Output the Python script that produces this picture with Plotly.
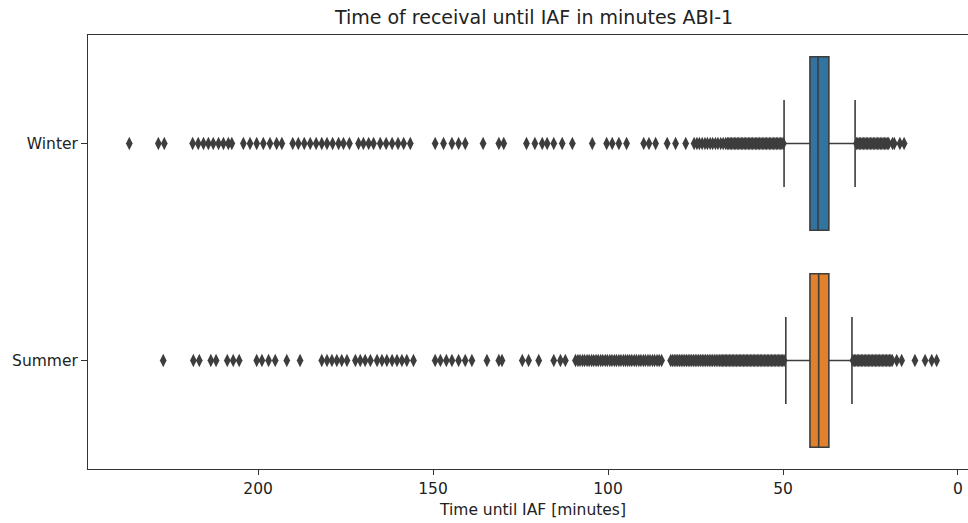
import plotly.graph_objects as go

# ---------------- data ----------------
categories = ["Winter", "Summer"]

q1 = [36.9, 36.9]
median = [40.0, 39.8]
q3 = [42.3, 42.3]
lower_whisker = [29.4, 30.3]
upper_whisker = [49.7, 49.2]

winter_outliers = [
    236.8, 228.5, 226.8,
    218.7, 217.1, 215.6, 214.2, 212.8, 211.3, 209.9, 208.5, 207.5,
    204.2, 202.3, 200.4, 198.5, 196.6, 194.7, 193.2,
    190.1, 188.5, 186.8, 185.1, 183.4, 181.8, 180.3, 178.7, 177.0, 175.6, 173.9,
    171.3, 169.9, 168.4, 167.0, 165.1, 163.4, 161.7, 160.0, 158.4, 156.5,
    149.4, 147.0, 144.6, 142.7, 140.8,
    135.7, 131.2, 129.8,
    123.3, 120.9, 118.8, 117.4, 115.5, 113.1, 110.2,
    104.5, 100.4, 98.8, 96.9, 94.7,
    89.8, 88.3, 86.4, 83.1, 80.7, 77.8,
    75.4, 74.6, 73.9, 73.1, 72.3, 71.6, 70.8, 70.1, 69.3, 68.6, 67.8, 67.1, 66.4,
    65.9, 65.5, 65.1, 64.7, 64.3, 63.9, 63.5, 63.1, 62.7, 62.3, 61.9, 61.5, 61.1,
    60.7, 60.3, 59.9, 59.5, 59.1, 58.7, 58.3, 57.9, 57.5, 57.1, 56.7, 56.3, 55.9,
    55.5, 55.1, 54.7, 54.3, 53.9, 53.5, 53.1, 52.7, 52.3, 51.9, 51.5, 51.1, 50.7,
    50.3, 49.9,
    29.0, 28.6, 28.2, 27.8, 27.4, 27.0, 26.6, 26.2, 25.8, 25.4, 25.0, 24.6, 24.2,
    23.8, 23.4, 23.0, 22.6, 22.2, 21.8, 21.4, 21.0, 20.6, 20.2, 19.8,
    18.7, 18.2, 16.6, 15.4,
]

summer_outliers = [
    227.1,
    218.5, 216.8, 213.5, 212.0,
    208.8, 207.1, 205.4,
    200.4, 198.9, 197.0, 195.1, 191.8, 188.0,
    181.8, 180.3, 178.9, 177.5, 176.1, 174.6, 172.2, 170.8, 169.4, 167.9, 166.0,
    164.6, 163.2, 161.7, 160.3, 158.9, 157.5, 155.6,
    149.4, 147.9, 146.2, 144.6, 142.7, 140.8, 138.9,
    134.6, 131.2, 130.3,
    124.5, 122.7, 119.8,
    115.5, 113.6, 112.2,
    109.3, 108.6, 108.0, 107.3, 106.7, 106.0, 105.4, 104.7, 104.1, 103.4, 102.8,
    102.1, 101.5, 100.8, 100.2, 99.5, 98.9, 98.2, 97.6, 96.9, 96.3, 95.6, 95.0, 94.4,
    93.8, 93.2, 92.5, 91.9, 91.2, 90.6, 89.9, 89.3, 88.6, 88.0, 87.3, 86.7, 86.0,
    85.4, 84.7,
    82.1, 81.6, 81.1, 80.6, 80.1, 79.6, 79.1, 78.6, 78.1, 77.6, 77.1, 76.6, 76.1,
    75.6, 75.1, 74.6, 74.1, 73.6, 73.1, 72.6, 72.1, 71.6, 71.1, 70.6, 70.1, 69.6,
    69.1, 68.6, 68.1,
    67.7, 67.3, 66.9, 66.5, 66.1, 65.7, 65.3, 64.9, 64.5, 64.1, 63.7, 63.3, 62.9,
    62.5, 62.1, 61.7, 61.3, 60.9, 60.5, 60.1, 59.7, 59.3, 58.9, 58.5, 58.1, 57.7,
    57.3, 56.9, 56.5, 56.1, 55.7, 55.3, 54.9, 54.5, 54.1, 53.7, 53.3, 52.9, 52.5,
    52.1, 51.7, 51.3, 50.9, 50.5, 50.1, 49.7,
    30.0, 29.6, 29.2, 28.8, 28.4, 28.0, 27.6, 27.2, 26.8, 26.4, 26.0, 25.6, 25.2,
    24.8, 24.4, 24.0, 23.6, 23.2, 22.8, 22.4, 22.0, 21.6, 21.2, 20.8, 20.4, 20.0,
    19.6, 19.2, 18.8,
    17.5, 16.1, 12.3, 9.4, 7.5, 6.1,
]

outliers = [winter_outliers, summer_outliers]
x_tick_values = [0, 50, 100, 150, 200]

colors = ["#3274a1", "#e1812c"]
line_color = "#3d3d3d"
font_family = "DejaVu Sans"

fig = go.Figure()

for i, cat in enumerate(categories):
    fig.add_trace(go.Box(
        orientation="h",
        y=[i],
        q1=[q1[i]], median=[median[i]], q3=[q3[i]],
        lowerfence=[lower_whisker[i]], upperfence=[upper_whisker[i]],
        width=0.8,
        whiskerwidth=0.5,
        fillcolor=colors[i],
        line=dict(color=line_color, width=1.6),
        boxpoints=False,
        name=cat,
        showlegend=False,
        hoverinfo="skip",
    ))
    fig.add_trace(go.Scatter(
        x=outliers[i],
        y=[i] * len(outliers[i]),
        mode="markers",
        marker=dict(symbol="diamond-tall", size=9.5, color=line_color,
                    line=dict(width=0)),
        showlegend=False,
        hoverinfo="skip",
    ))

fig.update_layout(
    width=968, height=523,
    margin=dict(l=88, r=0, t=35, b=54),
    paper_bgcolor="white", plot_bgcolor="white",
    font=dict(family=font_family, size=15.5, color="#222222"),
    title=dict(text="Time of receival until IAF in minutes ABI-1",
               x=534 / 968, xref="container", xanchor="center",
               y=1 - 17 / 523, yref="container", yanchor="middle",
               font=dict(family=font_family, size=19, color="#222222")),
    showlegend=False,
)

fig.update_xaxes(
    range=[248.6, -2.86],
    tickvals=x_tick_values,
    ticktext=[str(v) for v in x_tick_values],
    ticks="outside", ticklen=5, tickwidth=1, tickcolor="#333333",
    showline=True, linecolor="#333333", linewidth=1, mirror=True,
    showgrid=False, zeroline=False,
)
fig.update_yaxes(
    range=[1.5, -0.5],
    tickvals=list(range(len(categories))),
    ticktext=categories,
    ticks="outside", ticklen=6, tickwidth=1, tickcolor="#333333",
    showline=True, linecolor="#333333", linewidth=1, mirror=False,
    showgrid=False, zeroline=False,
)

fig.add_annotation(
    text="Time until IAF [minutes]",
    xref="paper", yref="paper", x=(532 - 88) / 880, y=(469 - 510) / 434,
    xanchor="center", yanchor="middle", showarrow=False,
    font=dict(family=font_family, size=15.5, color="#222222"),
)

fig.write_html(
    "out.html",
    config={"displayModeBar": False},
    post_script="document.body.style.margin='0';document.body.style.overflow='hidden';",
)
